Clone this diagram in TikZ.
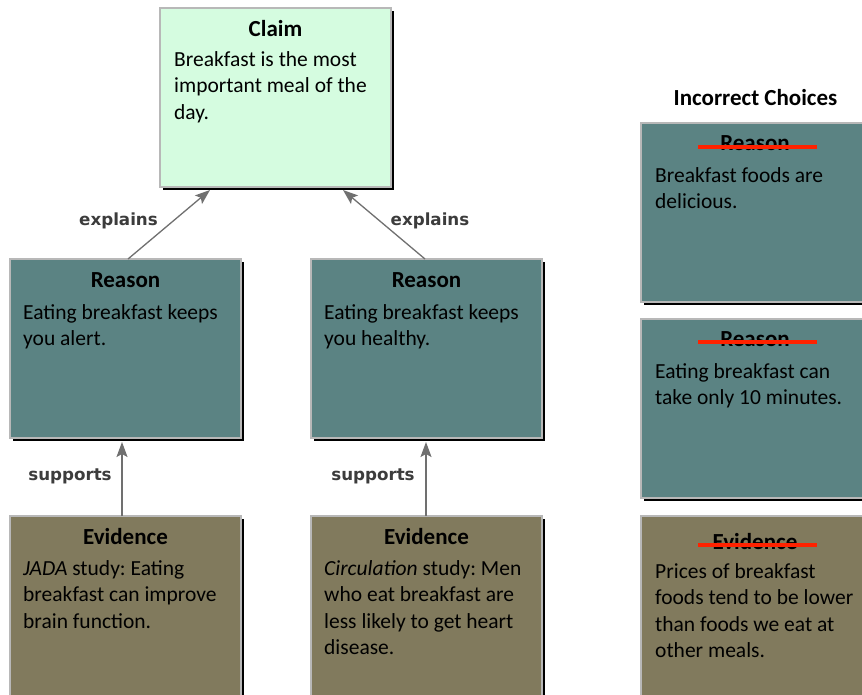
\documentclass[tikz,border=0pt]{standalone}
\usepackage{fontspec}
\setmainfont{Carlito}
\newfontfamily\labfont{DejaVu Sans}
\usetikzlibrary{arrows.meta,shadows,calc}
\definecolor{claimfill}{HTML}{D5FCE0}
\definecolor{reasonfill}{HTML}{5B8383}
\definecolor{evidfill}{HTML}{817A5D}
\definecolor{boxline}{HTML}{B8B8B8}
\definecolor{arrowgray}{HTML}{707070}
\definecolor{labgray}{HTML}{3C3C3C}
\definecolor{strikered}{HTML}{FF2200}
\frenchspacing
\begin{document}
\begin{tikzpicture}[x=1pt,y=-1pt,
  box/.style={rectangle, draw=boxline, line width=1.5pt, anchor=north west,
    minimum width=231pt, minimum height=179pt, inner sep=0pt, outer sep=0pt,
    drop shadow={shadow xshift=3pt, shadow yshift=-3pt, fill=black, opacity=1}},
  ttl/.style={anchor=base, inner sep=0pt, font=\fontsize{23}{26}\selectfont\bfseries},
  body/.style={anchor=north west, align=left, inner sep=0pt, font=\fontsize{21.5}{26.5}\selectfont},
  lab/.style={anchor=base, inner sep=0pt, font=\labfont\bfseries\fontsize{16.7}{20}\selectfont, text=labgray},
  conn/.style={draw=arrowgray, line width=1.3pt, -{Stealth[length=15pt,width=11pt,inset=3pt]}},
  strike/.style={draw=strikered, line width=4pt}
]
\useasboundingbox (0,0) rectangle (862,694);
\fill[white] (0,0) rectangle (862,694);
\clip (0,0) rectangle (862,694);

% Claim
\node[box, fill=claimfill] (claim) at (160,8) {};
\node[ttl] (claimT) at (275.5,36) {Claim};
\node[body] (claimB) at (174,46) {\rule{0pt}{20pt}Breakfast is the most\\important meal of the\\day.};

% Reasons
\node[box, fill=reasonfill] (rL) at (10,259) {};
\node[ttl] (rLT) at (125.5,287) {Reason};
\node[body] (rLB) at (23,299) {\rule{0pt}{20pt}Eating breakfast keeps\\you alert.};

\node[box, fill=reasonfill] (rR) at (311,259) {};
\node[ttl] (rRT) at (426.5,287) {Reason};
\node[body] (rRB) at (324,299) {\rule{0pt}{20pt}Eating breakfast keeps\\you healthy.};

% Evidence
\node[box, fill=evidfill, minimum height=200pt] (eL) at (10,516) {};
\node[ttl] (eLT) at (125.5,544) {Evidence};
\node[body] (eLB) at (23,555) {\rule{0pt}{20pt}\textit{JADA} study: Eating\\breakfast can improve\\brain function.};

\node[box, fill=evidfill, minimum height=200pt] (eR) at (311,516) {};
\node[ttl] (eRT) at (426.5,544) {Evidence};
\node[body] (eRB) at (324,555) {\rule{0pt}{20pt}\textit{Circulation} study: Men\\who eat breakfast are\\less likely to get heart\\disease.};

% Incorrect choices
\node[ttl] (incT) at (755.5,105) {Incorrect Choices};

\node[box, fill=reasonfill] (i1) at (641,123) {};
\node[ttl] (i1T) at (755,150) {Reason};
\draw[strike] ($(i1.north west)+(57,24)$) coordinate (s1a) -- ($(i1.north west)+(176,24)$) coordinate (s1b);
\node[body] (i1B) at (655,162) {\rule{0pt}{20pt}Breakfast foods are\\delicious.};

\node[box, fill=reasonfill] (i2) at (641,319) {};
\node[ttl] (i2T) at (755,346) {Reason};
\draw[strike] ($(i2.north west)+(57,23)$) coordinate (s2a) -- ($(i2.north west)+(176,23)$) coordinate (s2b);
\node[body] (i2B) at (655,358) {\rule{0pt}{20pt}Eating breakfast can\\take only 10 minutes.};

\node[box, fill=evidfill, minimum height=200pt] (i3) at (641,516) {};
\node[ttl] (i3T) at (755,549) {Evidence};
\draw[strike] ($(i3.north west)+(57,29)$) coordinate (s3a) -- ($(i3.north west)+(176,29)$) coordinate (s3b);
\node[body] (i3B) at (655,558) {\rule{0pt}{20pt}Prices of breakfast\\foods tend to be lower\\than foods we eat at\\other meals.};

% Connectors
\draw[conn] ($(rL.north west)+(118,0)$) -- ($(claim.south west)+(50,3)$);
\draw[conn] ($(rR.north west)+(114,0)$) -- ($(claim.south west)+(183,3)$);
\draw[conn] ($(eL.north west)+(112,0)$) -- ($(rL.south west)+(112,4)$);
\draw[conn] ($(eR.north west)+(115,0)$) -- ($(rR.south west)+(115,4)$);

% Labels
\node[lab] (l1) at (118.5,225) {explains};
\node[lab] (l2) at (430,225) {explains};
\node[lab] (l3) at (70,480) {supports};
\node[lab] (l4) at (373,480) {supports};
\end{tikzpicture}
\end{document}
